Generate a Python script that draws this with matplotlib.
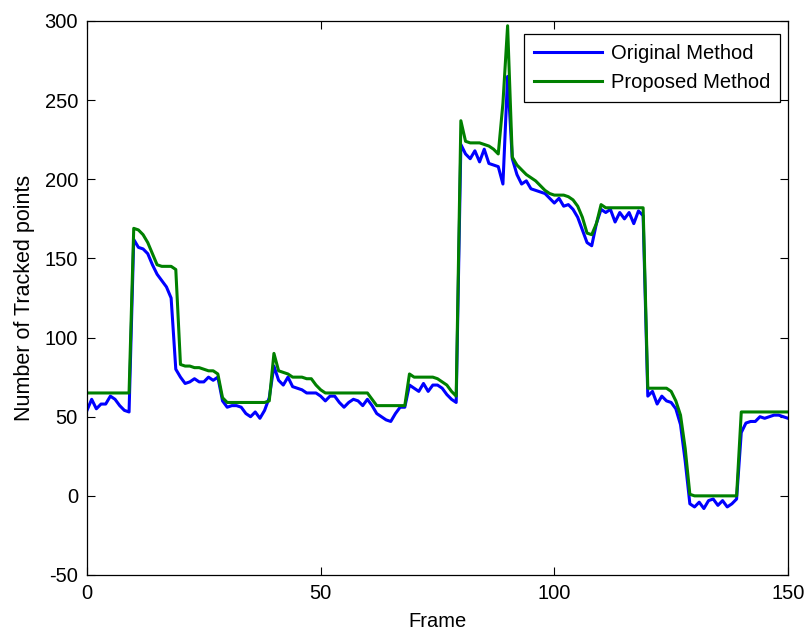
import matplotlib
matplotlib.use("Agg")
import matplotlib.pyplot as plt
import numpy as np

plt.rcParams['font.family'] = ['Liberation Sans', 'DejaVu Sans']
plt.rcParams['axes.unicode_minus'] = False

frames = list(range(0, 151))

original = [54, 61, 55, 58, 58, 63, 61, 57, 54, 53,
            162, 157, 156, 153, 146, 140, 136, 132, 125, 80,
            75, 71, 72, 74, 72, 72, 75, 73, 75, 60,
            56, 57, 57, 56, 52, 50, 53, 49, 54, 62,
            82, 73, 70, 75, 69, 68, 67, 65, 65, 65,
            63, 60, 63, 63, 59, 56, 59, 61, 60, 57,
            61, 57, 52, 50, 48, 47, 52, 56, 56, 70,
            68, 66, 71, 66, 70, 70, 68, 64, 61, 59,
            222, 216, 213, 218, 211, 219, 210, 209, 208, 197,
            265, 213, 203, 197, 199, 194, 193, 192, 191, 188,
            185, 188, 183, 184, 181, 176, 168, 160, 158, 172,
            181, 179, 181, 173, 179, 175, 179, 172, 180, 177,
            63, 66, 58, 63, 60, 59, 55, 45, 22, -5,
            -7, -4, -8, -3, -2, -6, -3, -7, -5, -2,
            40, 46, 47, 47, 50, 49, 50, 51, 51, 50, 49]

proposed = [65, 65, 65, 65, 65, 65, 65, 65, 65, 65,
            169, 168, 165, 160, 153, 146, 145, 145, 145, 143,
            83, 82, 82, 81, 81, 80, 79, 79, 77, 62,
            59, 59, 59, 59, 59, 59, 59, 59, 59, 60,
            90, 79, 78, 77, 75, 75, 75, 74, 74, 70,
            67, 65, 65, 65, 65, 65, 65, 65, 65, 65,
            65, 61, 57, 57, 57, 57, 57, 57, 57, 77,
            75, 75, 75, 75, 75, 74, 72, 70, 66, 63,
            237, 224, 223, 223, 223, 222, 221, 219, 216, 248,
            297, 214, 209, 206, 203, 201, 199, 196, 193, 191,
            190, 190, 190, 189, 187, 183, 176, 166, 165, 172,
            184, 182, 182, 182, 182, 182, 182, 182, 182, 182,
            68, 68, 68, 68, 68, 66, 60, 51, 30, 1,
            0, 0, 0, 0, 0, 0, 0, 0, 0, 0,
            53, 53, 53, 53, 53, 53, 53, 53, 53, 53, 53]

series_labels = ["Original Method", "Proposed Method"]
x_ticks = [0, 50, 100, 150]
y_ticks = [-50, 0, 50, 100, 150, 200, 250, 300]

fig = plt.figure(figsize=(8.08, 6.34), dpi=100)
ax = fig.add_axes([87/808, 1-575/634, (788-87)/808, (575-21)/634])

ax.plot(frames, original, color=(0, 0, 1), lw=2.2, label=series_labels[0])
ax.plot(frames, proposed, color=(0, 0.5, 0), lw=2.2, label=series_labels[1])

ax.set_xlim(0, 150)
ax.set_ylim(-50, 300)
ax.set_xticks(x_ticks)
ax.set_yticks(y_ticks)
ax.tick_params(direction='in', length=5.5, width=0.8, top=True, right=True,
               labelsize=14.5, pad=6.5)
for s in ax.spines.values():
    s.set_linewidth(0.9)

ax.set_xlabel("Frame", fontsize=14.5, labelpad=6.3)
ax.set_ylabel("Number of Tracked points", fontsize=15.5, labelpad=7)

leg = ax.legend(loc='upper right', bbox_to_anchor=((780-87)/701, (575-34)/554),
                borderaxespad=0, fancybox=False, edgecolor='black',
                fontsize=14.5, handlelength=3.4, handletextpad=0.4,
                labelspacing=0.5, borderpad=0.5, framealpha=1)
leg.get_frame().set_linewidth(0.9)

fig.savefig("out.png", dpi=100, facecolor='white')
